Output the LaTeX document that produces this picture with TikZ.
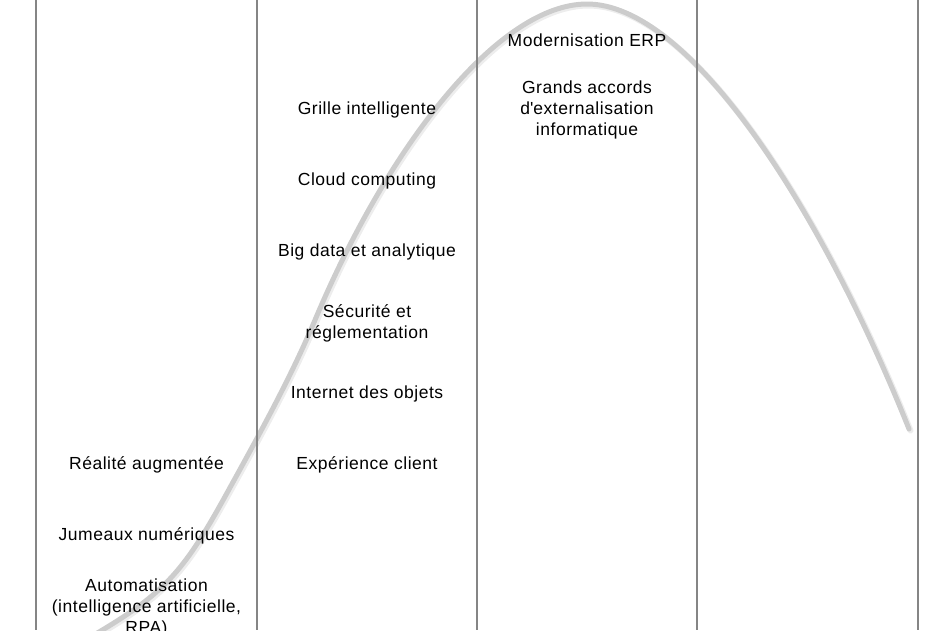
\documentclass[tikz,border=0pt]{standalone}
\usepackage{fontspec}
\setmainfont{Liberation Sans}[LetterSpace=3]
\begin{document}
\begin{tikzpicture}[x=1pt,y=-1pt,
  item/.style={align=center,font=\fontsize{17.5}{21}\selectfont,inner sep=0pt,text=black},
  colline/.style={draw=black!48,line width=1.3pt},
  hype/.style={draw=black!20,line width=5pt,line cap=round},
  hypeshadow/.style={draw=black!7,line width=6pt,line cap=round}]
\useasboundingbox (0,0) rectangle (952,630);
\begin{scope}
\clip (0,0) rectangle (952,630);
\def\hypepath{(55,657) .. controls (160,599) and (177.5,583) .. (227,493) .. controls (259,435) and (290.6,378) .. (315,320) .. controls (390,142) and (500,4) .. (587,4) .. controls (687,4) and (817,199) .. (909,429)}
\draw[hypeshadow,shift={(1.5,1.5)}] \hypepath;
\draw[hype] \hypepath;
\end{scope}
\foreach \i/\x in {a/36,b/257,c/477,d/697,e/918}{
  \coordinate (top\i) at (\x,0);
  \coordinate (bot\i) at (\x,630);
  \draw[colline] (top\i) -- (bot\i);
}
% column 1
\node[item] (ra) at (146.5,465) {Réalité augmentée};
\node[item] (jn) at (146.5,536) {Jumeaux numériques};
\node[item,anchor=north] (au) at (146.5,579) {Automatisation\\(intelligence artificielle,\\RPA)};
% column 2
\node[item] (gi) at (367,110) {Grille intelligente};
\node[item] (cc) at (367,181) {Cloud computing};
\node[item] (bd) at (367,252) {Big data et analytique};
\node[item] (sr) at (367,323) {Sécurité et\\réglementation};
\node[item] (io) at (367,394) {Internet des objets};
\node[item] (ec) at (367,465) {Expérience client};
% column 3
\node[item] (me) at (587,40) {Modernisation ERP};
\node[item] (ga) at (587,110) {Grands accords\\d\textquotesingle externalisation\\informatique};
\end{tikzpicture}
\end{document}
